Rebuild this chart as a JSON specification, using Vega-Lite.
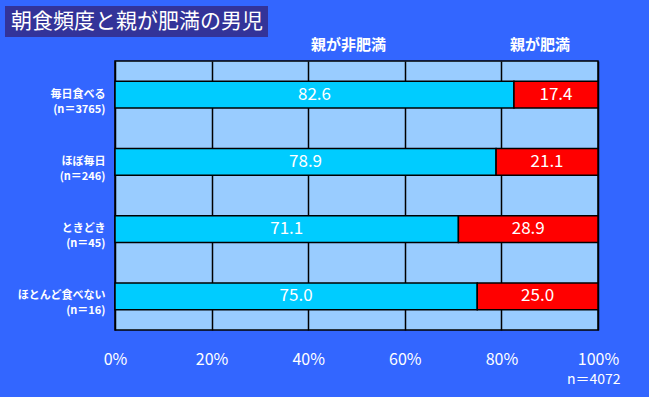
{
  "$schema": "https://vega.github.io/schema/vega-lite/v6.json",
  "background": "#3366FF",
  "padding": {"left": 5, "top": 6, "right": 29, "bottom": 11},
  "width": 483,
  "height": 269,
  "config": {"font": "Noto Sans CJK JP"},
  "view": {"fill": "#99CCFF", "stroke": "black", "strokeWidth": 1.5},
  "data": {"values": [
    {"cat": "毎日食べる\n(n＝3765)", "group": "親が非肥満", "pct": 82.6},
    {"cat": "毎日食べる\n(n＝3765)", "group": "親が肥満", "pct": 17.4},
    {"cat": "ほぼ毎日\n(n＝246)", "group": "親が非肥満", "pct": 78.9},
    {"cat": "ほぼ毎日\n(n＝246)", "group": "親が肥満", "pct": 21.1},
    {"cat": "ときどき\n(n＝45)", "group": "親が非肥満", "pct": 71.1},
    {"cat": "ときどき\n(n＝45)", "group": "親が肥満", "pct": 28.9},
    {"cat": "ほとんど食べない\n(n＝16)", "group": "親が非肥満", "pct": 75.0},
    {"cat": "ほとんど食べない\n(n＝16)", "group": "親が肥満", "pct": 25.0}
  ]},
  "transform": [
    {"stack": "pct", "groupby": ["cat"], "sort": [{"field": "group", "order": "descending"}], "as": ["x0", "x1"]},
    {"calculate": "(datum.x0 + datum.x1) / 2", "as": "mid"}
  ],
  "encoding": {
    "y": {
      "field": "cat", "type": "nominal", "sort": null,
      "scale": {"paddingInner": 0.6, "paddingOuter": 0.3},
      "axis": {
        "title": null,
        "labelExpr": "split(datum.label, '\\n')",
        "labelColor": "white", "labelFontSize": 11, "labelFontWeight": "bold",
        "labelLineHeight": 15, "labelPadding": 10, "labelLimit": 200,
        "ticks": false, "domain": false
      }
    }
  },
  "layer": [
    {
      "mark": {"type": "bar", "stroke": "black", "strokeWidth": 1.5},
      "encoding": {
        "x": {
          "field": "x0", "type": "quantitative",
          "scale": {"domain": [0, 100], "nice": false},
          "axis": {
            "values": [0, 20, 40, 60, 80, 100],
            "labelExpr": "datum.value + '%'",
            "labelColor": "white", "labelFontSize": 16, "labelPadding": 21,
            "labelFlush": false,
            "ticks": false, "domain": false,
            "grid": true, "gridColor": "black", "gridWidth": 1.5, "gridOpacity": 1,
            "title": "n＝4072", "titleColor": "white", "titleFontSize": 14,
            "titleFontWeight": "normal", "titleAnchor": "end", "titleAlign": "right",
            "titleX": 505, "titlePadding": 5
          }
        },
        "x2": {"field": "x1"},
        "color": {
          "field": "group", "type": "nominal",
          "scale": {"domain": ["親が非肥満", "親が肥満"], "range": ["#00CCFF", "#FF0000"]},
          "legend": {
            "orient": "none", "legendX": 181, "legendY": -24,
            "direction": "horizontal", "title": null,
            "symbolSize": 0, "symbolOpacity": 0, "symbolStrokeWidth": 0,
            "labelOffset": 0, "labelColor": "white", "labelFontSize": 15,
            "labelFontWeight": "bold", "columnPadding": 108, "labelLimit": 200
          }
        },
        "strokeDash": {
          "datum": "朝食頻度と親が肥満の男児", "type": "nominal",
          "scale": {"range": [[1, 0]]},
          "legend": {
            "orient": "none", "legendX": -110, "legendY": -55,
            "title": null, "fillColor": "#333399", "strokeColor": null,
            "padding": 5, "symbolSize": 0, "symbolOpacity": 0, "symbolStrokeWidth": 0,
            "labelOffset": -20, "labelColor": "white", "labelFontSize": 21,
            "labelFontWeight": "normal", "labelLimit": 400
          }
        }
      }
    },
    {
      "mark": {"type": "text", "color": "white", "fontSize": 17},
      "encoding": {
        "x": {"field": "mid", "type": "quantitative"},
        "text": {"field": "pct", "type": "quantitative", "format": ".1f"}
      }
    }
  ]
}
